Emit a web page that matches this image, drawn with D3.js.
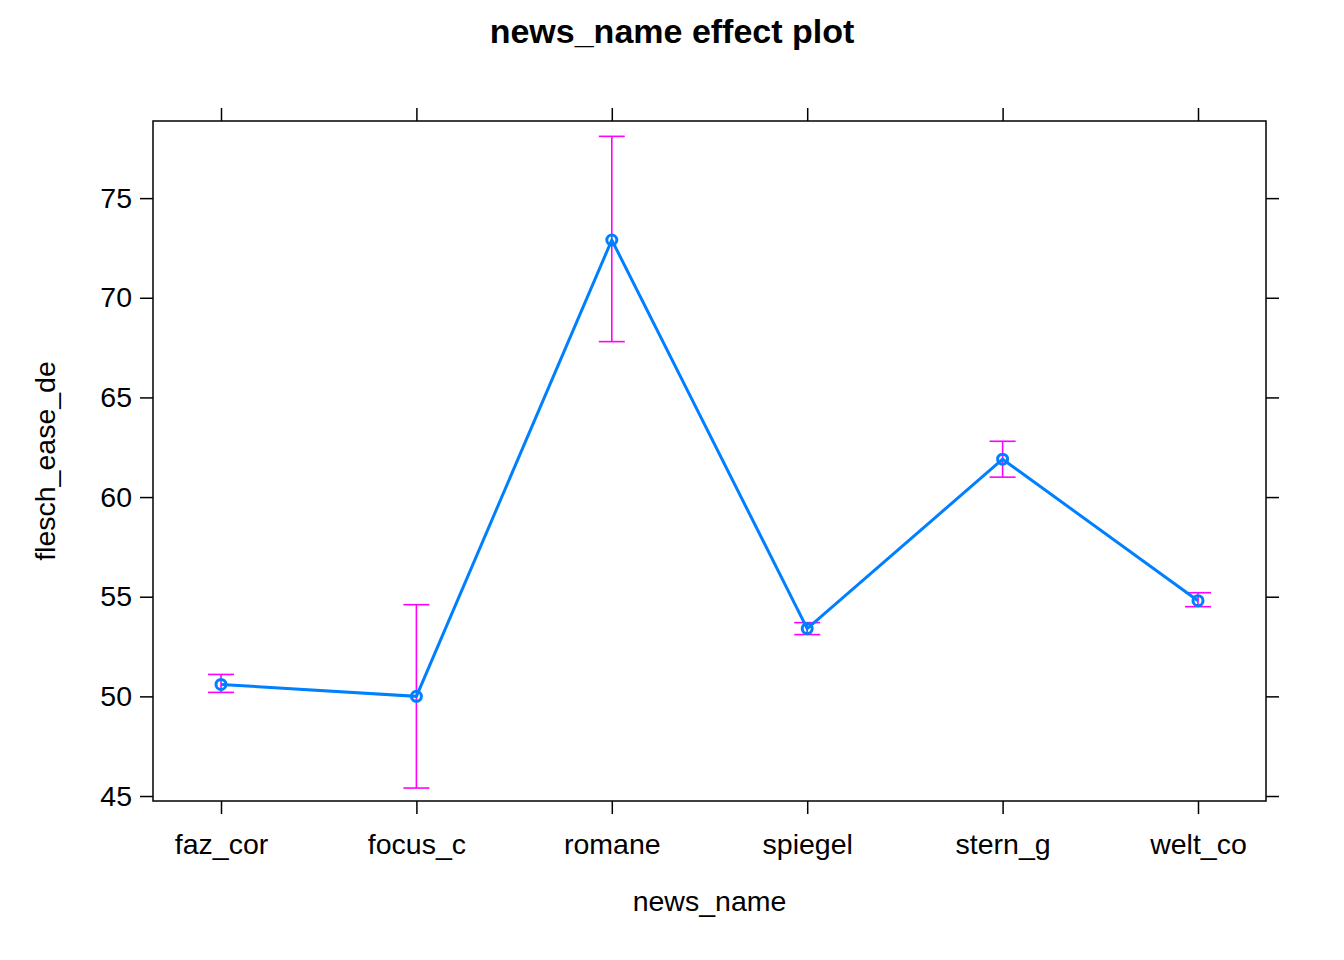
<!DOCTYPE html>
<html><head><meta charset="utf-8">
<script src="https://cdn.jsdelivr.net/npm/d3@7"></script>
<style>body{margin:0;background:#fff}text{font-family:"Liberation Sans",Arial,sans-serif}</style>
</head><body><div id="chart"></div>
<script>
var categories = ["faz_cor","focus_c","romane","spiegel","stern_g","welt_co"];
var fitValues = [50.6, 50.0, 72.9, 53.4, 61.9, 54.8];
var lowerValues = [50.2, 45.4, 67.8, 53.1, 61.0, 54.5];
var upperValues = [51.1, 54.6, 78.1, 53.7, 62.8, 55.2];
var yTicks = [45, 50, 55, 60, 65, 70, 75];

var W = 1344, H = 960;
var margin = {top:121, right:78, bottom:159, left:153};
var width = W - margin.left - margin.right, height = H - margin.top - margin.bottom;

var svg = d3.select("#chart").append("svg").attr("width", W).attr("height", H);
var g = svg.append("g").attr("transform","translate(" + margin.left + "," + margin.top + ")");

var x = d3.scaleLinear().domain([0.652, 6.348]).range([0, width]);
var y = d3.scaleLinear().domain([44.75, 78.87]).range([height, 0]);

g.append("rect").attr("width", width).attr("height", height).attr("fill","none").attr("stroke","#000").attr("stroke-width",1.5);

var idx = d3.range(1, categories.length + 1);
// axes: labelled bottom/left, ticks only top/right
var xb = g.append("g").attr("transform","translate(0," + height + ")")
  .call(d3.axisBottom(x).tickValues(idx).tickFormat(function(d){return categories[d-1];}).tickSize(13).tickPadding(20));
var xt = g.append("g").call(d3.axisTop(x).tickValues(idx).tickFormat("").tickSize(13));
var yl = g.append("g").call(d3.axisLeft(y).tickValues(yTicks).tickSize(13).tickPadding(8));
var yr = g.append("g").attr("transform","translate(" + width + ",0)").call(d3.axisRight(y).tickValues(yTicks).tickFormat("").tickSize(13));
[xb, xt, yl, yr].forEach(function(a){
  a.select(".domain").remove();
  a.selectAll("line").attr("stroke","#000").attr("stroke-width",1.5);
  a.selectAll("text").attr("font-size",28.5).attr("fill","#000").style("font-family","Liberation Sans, Arial, sans-serif");
});

var data = categories.map(function(c,i){return {i:i+1, fit:fitValues[i], lo:lowerValues[i], hi:upperValues[i]};});

// error bars
var eb = g.selectAll(".eb").data(data).enter().append("g").attr("stroke","#ff00ff").attr("stroke-width",1.6);
eb.append("line").attr("x1",function(d){return x(d.i);}).attr("x2",function(d){return x(d.i);})
  .attr("y1",function(d){return y(d.lo);}).attr("y2",function(d){return y(d.hi);});
eb.append("line").attr("x1",function(d){return x(d.i)-13;}).attr("x2",function(d){return x(d.i)+13;})
  .attr("y1",function(d){return y(d.lo);}).attr("y2",function(d){return y(d.lo);});
eb.append("line").attr("x1",function(d){return x(d.i)-13;}).attr("x2",function(d){return x(d.i)+13;})
  .attr("y1",function(d){return y(d.hi);}).attr("y2",function(d){return y(d.hi);});

g.append("path").datum(data).attr("fill","none").attr("stroke","#0080ff").attr("stroke-width",3)
  .attr("d", d3.line().x(function(d){return x(d.i);}).y(function(d){return y(d.fit);}));
g.selectAll(".pt").data(data).enter().append("circle")
  .attr("cx",function(d){return x(d.i);}).attr("cy",function(d){return y(d.fit);}).attr("r",5)
  .attr("fill","none").attr("stroke","#0080ff").attr("stroke-width",3);

svg.append("text").attr("x",672).attr("y",43).attr("text-anchor","middle").attr("font-size",34).attr("font-weight","bold").text("news_name effect plot");
svg.append("text").attr("x",margin.left + width/2).attr("y",911).attr("text-anchor","middle").attr("font-size",28.5).text("news_name");
svg.append("text").attr("transform","translate(55," + (margin.top + height/2) + ") rotate(-90)").attr("text-anchor","middle").attr("font-size",28.5).text("flesch_ease_de");
</script></body></html>
